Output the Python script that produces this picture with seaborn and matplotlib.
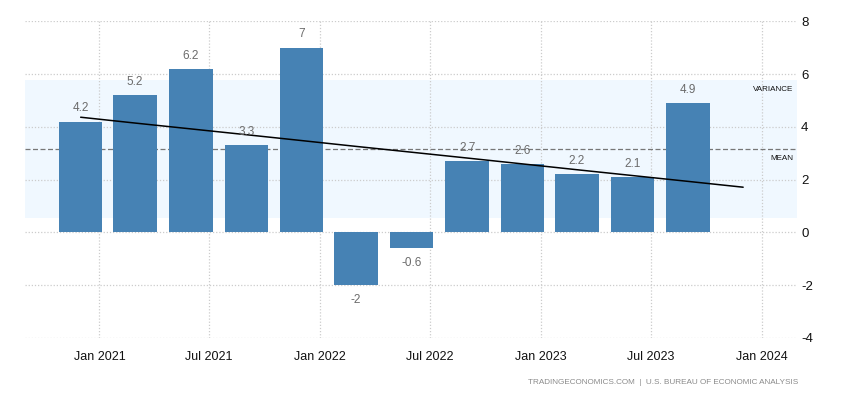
import numpy as np
import pandas as pd
import matplotlib
matplotlib.use("Agg")
import matplotlib.pyplot as plt
import matplotlib.dates as mdates
import seaborn as sns

# ========== data ==========
quarters = ["2020Q4", "2021Q1", "2021Q2", "2021Q3", "2021Q4", "2022Q1",
            "2022Q2", "2022Q3", "2022Q4", "2023Q1", "2023Q2", "2023Q3"]
growth = [4.2, 5.2, 6.2, 3.3, 7.0, -2.0, -0.6, 2.7, 2.6, 2.2, 2.1, 4.9]
value_labels = ["4.2", "5.2", "6.2", "3.3", "7", "-2", "-0.6", "2.7", "2.6", "2.2", "2.1", "4.9"]
y_ticks = [-4, -2, 0, 2, 4, 6, 8]
source_text = "TRADINGECONOMICS.COM  |  U.S. BUREAU OF ECONOMIC ANALYSIS"

BAR_COLOR = "#4682b4"
BAND_COLOR = "#f0f8ff"
LABEL_COLOR = "#6b6b6b"

sns.set_style("white")
plt.rcParams["font.family"] = ["Liberation Sans", "DejaVu Sans"]
plt.rcParams["axes.unicode_minus"] = False  # plain hyphen for negatives

# bars sit on the first day of the last month of each quarter
periods = pd.PeriodIndex(quarters, freq="Q")
bar_dates = periods.to_timestamp(how="start") + pd.DateOffset(months=2)
x_num = mdates.date2num(bar_dates.to_pydatetime())
next_date = (periods[-1] + 1).to_timestamp(how="start") + pd.DateOffset(months=2)
x_next = mdates.date2num(next_date.to_pydatetime())

vals = np.array(growth)
mean = vals.mean()
std = vals.std(ddof=1)

fig = plt.figure(figsize=(8.5, 4), dpi=100)
ax = fig.add_axes([25 / 850, 1 - 338 / 400, 772 / 850, (338 - 21.3) / 400])

x_left = mdates.date2num(pd.Timestamp("2020-08-31").to_pydatetime())
x_right = mdates.date2num(pd.Timestamp("2024-02-28").to_pydatetime())

# variance band and mean line
ax.axhspan(mean - std, mean + std, color=BAND_COLOR, zorder=0, lw=0)
ax.axhline(mean, color="#777777", lw=0.9, ls=(0, (4, 2)), zorder=1)

sns.barplot(x=x_num, y=vals, native_scale=True, color=BAR_COLOR,
            saturation=1, width=0.8, errorbar=None, linewidth=0, ax=ax, zorder=2)

# trend line (least squares on quarter index, one quarter past the data)
idx = np.arange(len(vals))
slope, intercept = np.polyfit(idx, vals, 1)
tx = np.append(x_num, x_next)
ty = intercept + slope * np.arange(len(vals) + 1)
ax.plot(tx, ty, color="black", lw=1.1, zorder=3)

# value labels
for xv, v, lab in zip(x_num, vals, value_labels):
    off = 9.5 if v >= 0 else -10.8
    ax.annotate(lab, (xv, v), xytext=(0, off), textcoords="offset points",
                ha="center", va="center", fontsize=8.5, color=LABEL_COLOR, zorder=4)

trans = ax.get_yaxis_transform()
ax.text(0.995, mean + std - 0.37, "VARIANCE", transform=trans, ha="right",
        va="center", fontsize=5.8, color="#111111")
ax.text(0.995, mean - 0.36, "MEAN", transform=trans, ha="right",
        va="center", fontsize=5.8, color="#111111")

ax.set_xlim(x_left, x_right)
ax.set_ylim(-4, 8)
ax.set_yticks(y_ticks)
ax.yaxis.tick_right()
ax.tick_params(axis="y", length=0, pad=3, labelsize=9.5, labelcolor="#111111")
ax.xaxis.set_major_locator(mdates.MonthLocator(bymonth=[1, 7]))
ax.xaxis.set_major_formatter(mdates.DateFormatter("%b %Y"))
ax.tick_params(axis="x", length=5, color="#cccccc", pad=4, labelsize=9, labelcolor="#111111")
ax.set_xlabel("")
ax.set_ylabel("")

ax.grid(True, color="#cccccc", ls=(0, (1, 1.5)), lw=0.9)
ax.set_axisbelow(True)
for s in ax.spines.values():
    s.set_visible(False)

fig.text(798 / 850, 1 - 383 / 400, source_text, ha="right", va="center",
         fontsize=5.9, color="#8a8a8a")

fig.savefig("out.png", dpi=100)
